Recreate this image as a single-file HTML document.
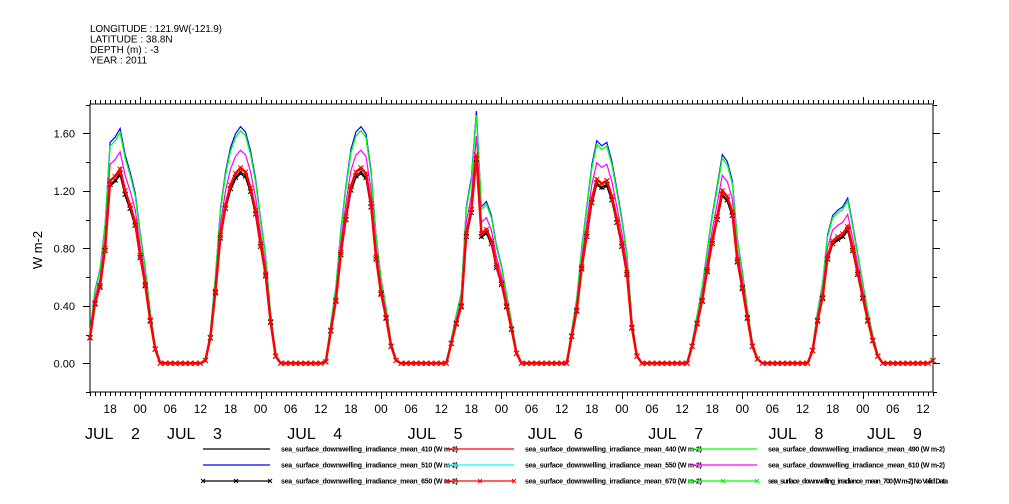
<!DOCTYPE html>
<html><head><meta charset="utf-8">
<style>
html,body{margin:0;padding:0;background:#fff;}
svg{display:block;font-family:"Liberation Sans",sans-serif;}
</style></head>
<body>
<svg id="chart" width="1009" height="504" viewBox="0 0 1009 504" xmlns="http://www.w3.org/2000/svg">
<g font-size="10" fill="#000">
<text x="90" y="32" textLength="132">LONGITUDE : 121.9W(-121.9)</text>
<text x="90" y="42.5">LATITUDE : 38.8N</text>
<text x="90" y="53">DEPTH (m) : -3</text>
<text x="90" y="63.5">YEAR : 2011</text>
</g>
<text transform="translate(42,250) rotate(-90)" text-anchor="middle" font-size="13">W m-2</text>
<g id="axes"></g>
<g id="series"></g>
<g id="legend"></g>
</svg>
<script>
// hourly values for 670 nm series, starting JUL 2 14:00 (t=0) to JUL 9 14:00 (t=168)
const day2 = [0.18,0.42,0.54,0.8,1.27,1.3,1.35,1.2,1.1,0.98,0.75,0.55,0.3,0.1,0,0,0,0,0,0,0,0,0];
const day3 = [0.02,0.18,0.5,0.89,1.1,1.24,1.32,1.36,1.33,1.22,1.06,0.83,0.62,0.29,0.05,0,0,0,0,0,0,0,0,0];
const day4 = [0.01,0.23,0.44,0.77,1.02,1.23,1.33,1.36,1.32,1.11,0.74,0.49,0.32,0.12,0.02,0,0,0,0,0,0,0,0,0];
const day5 = [0,0.14,0.28,0.4,0.9,1.07,1.45,0.9,0.93,0.85,0.68,0.56,0.4,0.24,0.07,0,0,0,0,0,0,0,0,0];
const day6 = [0,0.19,0.37,0.67,0.9,1.14,1.28,1.25,1.27,1.16,1.0,0.83,0.63,0.25,0.05,0,0,0,0,0,0,0,0,0];
const day7 = [0,0.12,0.28,0.44,0.65,0.85,1.02,1.2,1.16,1.05,0.72,0.53,0.32,0.12,0.03,0,0,0,0,0,0,0,0,0];
const day8 = [0,0.09,0.3,0.46,0.74,0.85,0.88,0.9,0.95,0.8,0.63,0.46,0.3,0.16,0.05,0,0,0,0,0,0,0,0,0];
const day9 = [0,0.02];
const seriesNames = ["510","550","490","610","440","410","650","670","700"];
const seriesScale = [1.21,1.19,1.19,1.09,1.0,0.97,0.98,1.0,0];
const seriesColor = ["#0000ff","#00ffff","#00ff00","#ff00ff","#ff0000","#000000","#000000","#ff0000","#00ff00"];
const seriesMarker = [false,false,false,false,false,false,true,true,true];
const yTicks = [0,0.4,0.8,1.2,1.6];
const yTickLabels = ["0.00","0.40","0.80","1.20","1.60"];
const hourLabels = ["00","06","12","18"];
const dayNums = ["2","3","4","5","6","7","8","9"];
const legendNames = ["410","440","490","510","550","610","650","670","700"];
const legendColor = ["#000","#ff0000","#00ff00","#0000ff","#00ffff","#ff00ff","#000","#ff0000","#00ff00"];
const legendMarker = [false,false,false,false,false,false,true,true,true];

const base = [].concat(day2,day3,day4,day5,day6,day7,day8,day9);
const NS="http://www.w3.org/2000/svg";
const X0=90,X1=933,Y0=104,Y1=392,TMAX=168;
function xs(t){return X0+t*(X1-X0)/TMAX;}
function ys(v){return 363.3-v*143.75;}
function mk(tag,attrs,parent){const e=document.createElementNS(NS,tag);for(const k in attrs)e.setAttribute(k,attrs[k]);parent.appendChild(e);return e;}
const axes=document.getElementById('axes');
const frame=mk('rect',{x:X0,y:Y0,width:X1-X0,height:Y1-Y0,fill:'none',stroke:'#000','stroke-width':1},axes);


for(let t=0;t<=TMAX;t++){
  const hr=(t+14)%24; const x=Math.round(xs(t))+0.5;
  const len=hr===0?7:4;
  const tb=mk('line',{x1:x,x2:x,y1:Y1,y2:Y1+len,stroke:'#000'},axes);
  
  
  const tt=mk('line',{x1:x,x2:x,y1:Y0,y2:Y0-len,stroke:'#000'},axes);
  
  
  if(hr%6===0){
    const lb=mk('text',{x:xs(t),y:413,'text-anchor':'middle','font-size':12},axes);
    lb.textContent=hourLabels[hr/6];
    
    
  }
}
dayNums.forEach((d,i)=>{
  let x;
  if(i===0)x=85; else if(i===7)x=867; else x=167+120.3*(i-1);
  const g=mk('g',{},axes);
  
  
  const a=mk('text',{x:x,y:439,'font-size':16},g);
  a.textContent='JUL';
  const b=mk('text',{x:x+46,y:439,'font-size':16},g);
  b.textContent=d;
});
for(let v=-0.2;v<=1.81;v+=0.2){
  const y=Math.round(ys(v))+0.5; if(y<Y0||y>Y1+1)continue;
  const major=Math.abs(Math.round(v*10)%4)===0;
  const len=major?7:4;
  const l=mk('line',{x1:X0-len,x2:X0,y1:y,y2:y,stroke:'#000'},axes);
  
  
  const r=mk('line',{x1:X1,x2:X1+len,y1:y,y2:y,stroke:'#000'},axes);
  
  
}
yTicks.forEach((v,i)=>{
  const lb=mk('text',{x:75,y:ys(v)+4,'text-anchor':'end','font-size':11},axes);
  lb.textContent=yTickLabels[i];
  
  
});
const sg=document.getElementById('series');
seriesNames.forEach((n,si)=>{
  if(seriesScale[si]===0)return;
  const pts=base.map((v,t)=>xs(t).toFixed(1)+','+ys(v*seriesScale[si]).toFixed(1)).join(' ');
  const g=mk('g',{},sg);
  
  
  const pl=mk('polyline',{points:pts,fill:'none',stroke:seriesColor[si],'stroke-width':si===7?2.5:1.2},g);
  
  
  if(seriesMarker[si]){
    base.forEach((v,t)=>{
      const x=xs(t),y=ys(v*seriesScale[si]);
      const m=mk('path',{d:`M${x-2.5},${y-2.5}L${x+2.5},${y+2.5}M${x-2.5},${y+2.5}L${x+2.5},${y-2.5}`,stroke:seriesColor[si],'stroke-width':1},g);
      
      
    });
  }
});
const lg=document.getElementById('legend');
const colX=[203,447,690],rowY=[449,465,481];
legendNames.forEach((n,i)=>{
  const c=i%3,r=Math.floor(i/3);
  const x=colX[c],y=rowY[r];
  const g=mk('g',{},lg);
  
  
  mk('line',{x1:x,x2:x+67,y1:y,y2:y,stroke:legendColor[i],'stroke-width':1.2},g);
  if(legendMarker[i]){
    [0,33,67].forEach(o=>{mk('path',{d:`M${x+o-2},${y-2}L${x+o+2},${y+2}M${x+o-2},${y+2}L${x+o+2},${y-2}`,stroke:legendColor[i]},g);});
  }
  const tx=mk('text',{x:x+78,y:y+2.5,'font-size':7,'font-weight':'bold'},g);
  tx.textContent='sea_surface_downwelling_irradiance_mean_'+n+' (W m-2)'+(n==='700'?' No Valid Data':'');
  tx.setAttribute('textLength',n==='700'?180:177);
  
  
});
</script>
</body></html>
